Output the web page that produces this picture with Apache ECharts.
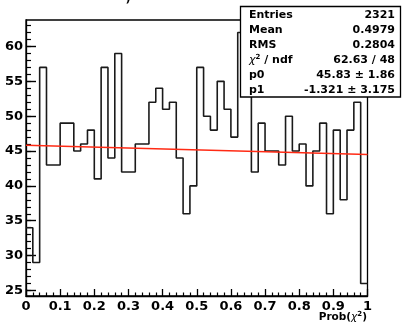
<!DOCTYPE html>
<html>
<head>
<meta charset="utf-8">
<script src="https://cdn.jsdelivr.net/npm/echarts@6/dist/echarts.min.js"></script>
<style>
  html, body { margin: 0; padding: 0; background: #fff; }
  #chart { width: 402px; height: 323px; }
</style>
</head>
<body>
<div id="chart"></div>
<script>
// Histogram binning: 50 bins over [0, 1]
const nBins = 50;
const xLow = 0;
const xHigh = 1;

// Bin contents
const binCounts = [
  34, 29, 57, 43, 43, 49, 49, 45, 46, 48,
  41, 57, 44, 59, 42, 42, 46, 46, 52, 54,
  51, 52, 44, 36, 40, 57, 50, 48, 55, 51,
  47, 62, 55, 42, 49, 45, 45, 43, 50, 45,
  46, 40, 45, 49, 36, 48, 38, 48, 52, 26
];

// Straight-line fit: p0 + p1 * x
const fitP0 = 45.83;
const fitP1 = -1.321;

// Axis ranges and ticks
const yRange = [24.2, 63.8];
const yMajorTicks = [25, 30, 35, 40, 45, 50, 55, 60];
const yMinorTicks = [25, 26, 27, 28, 29, 30, 31, 32, 33, 34, 35, 36, 37, 38, 39, 40,
  41, 42, 43, 44, 45, 46, 47, 48, 49, 50, 51, 52, 53, 54, 55, 56, 57, 58, 59, 60, 61, 62, 63];
const xTickStep = 0.1;
const xTitle = ['Prob(', 'χ', '2', ')'];

// Statistics box
const statNames = ['Entries', 'Mean', 'RMS', 'χ² / ndf', 'p0', 'p1'];
const statValues = ['2321', '0.4979', '0.2804', '62.63 / 48', '45.83 ± 1.86', '-1.321 ± 3.175'];

const FONT = 'DejaVu Sans';
const binWidth = (xHigh - xLow) / nBins;

// Step outline: each bin from its low edge, closed at the upper edge
const histPoints = binCounts.map((c, i) => [xLow + i * binWidth, c]);
histPoints.push([xHigh, binCounts[nBins - 1]]);

const fitPoints = [[xLow, fitP0 + fitP1 * xLow], [xHigh, fitP0 + fitP1 * xHigh]];

const chart = echarts.init(document.getElementById('chart'), null, { renderer: 'canvas' });

// Stats box rows
const statElements = [];
statNames.forEach((name, i) => {
  const y = 15 + i * 15.1;
  const isChi = name.indexOf('χ') === 0;
  statElements.push({
    type: 'text',
    z: 101,
    style: isChi ? {
      text: '{g|χ}{s|2}{t| / ndf}',
      x: 249, y: y,
      verticalAlign: 'middle',
      rich: {
        g: { fontFamily: FONT, fontStyle: 'italic', fontSize: 11, fill: '#000', lineHeight: 13 },
        s: { fontFamily: FONT, fontWeight: 'bold', fontSize: 7, fill: '#000', verticalAlign: 'top', lineHeight: 13 },
        t: { fontFamily: FONT, fontWeight: 'bold', fontSize: 11, fill: '#000', lineHeight: 13 }
      }
    } : {
      text: name, x: 249, y: y,
      verticalAlign: 'middle',
      fontFamily: FONT, fontWeight: 'bold', fontSize: 11, fill: '#000'
    }
  });
  statElements.push({
    type: 'text',
    z: 101,
    style: {
      text: statValues[i], x: 395, y: y,
      align: 'right', verticalAlign: 'middle',
      fontFamily: FONT, fontWeight: 'bold', fontSize: 11, fill: '#000'
    }
  });
});

const option = {
  animation: false,
  backgroundColor: '#fff',
  grid: {
    left: 26, top: 20, right: 34.5, bottom: 27,
    containLabel: false,
    outerBoundsMode: 'none',
    show: true,
    borderColor: '#000',
    borderWidth: 1.3,
    backgroundColor: 'transparent'
  },
  xAxis: {
    type: 'value',
    min: xLow, max: xHigh, interval: xTickStep,
    axisLine: { show: true, onZero: false, lineStyle: { color: '#000', width: 1.3 } },
    axisTick: { show: true, inside: true, length: 7, lineStyle: { color: '#000', width: 1.3 } },
    minorTick: { show: true, splitNumber: 5, length: 3.5, lineStyle: { color: '#000', width: 1.2 } },
    splitLine: { show: false },
    axisLabel: {
      show: true, margin: 4, color: '#000',
      fontFamily: FONT, fontWeight: 'bold', fontSize: 13,
      showMinLabel: true, showMaxLabel: true, hideOverlap: false,
      formatter: v => String(+v.toFixed(1))
    }
  },
  yAxis: [
    {
      type: 'value',
      min: yRange[0], max: yRange[1],
      axisLine: { show: true, onZero: false, lineStyle: { color: '#000', width: 1.3 } },
      axisTick: { show: true, inside: true, length: 10, customValues: yMajorTicks, lineStyle: { color: '#000', width: 1.4 } },
      splitLine: { show: false },
      axisLabel: {
        show: true, margin: 3, color: '#000', customValues: yMajorTicks,
        fontFamily: FONT, fontWeight: 'bold', fontSize: 13
      }
    },
    {
      type: 'value',
      position: 'left',
      min: yRange[0], max: yRange[1],
      axisLine: { show: false },
      axisTick: { show: true, inside: true, length: 5, customValues: yMinorTicks, lineStyle: { color: '#000', width: 1.2 } },
      splitLine: { show: false },
      axisLabel: { show: false }
    }
  ],
  series: [
    {
      name: 'histogram',
      type: 'line',
      step: 'end',
      data: histPoints,
      showSymbol: false,
      symbol: 'none',
      lineStyle: { color: '#1a1a1a', width: 1.6 },
      z: 3
    },
    {
      name: 'fit',
      type: 'line',
      data: fitPoints,
      showSymbol: false,
      symbol: 'none',
      lineStyle: { color: '#ff2a14', width: 1.5 },
      z: 4
    }
  ],
  graphic: [
    {
      type: 'text',
      z: 50,
      style: {
        text: ')', x: 128, y: 5, align: 'center', verticalAlign: 'bottom',
        fontFamily: FONT, fontWeight: 'bold', fontSize: 11, fill: '#000'
      }
    },
    {
      type: 'text',
      z: 50,
      style: {
        text: '{a|' + xTitle[0] + '}{g|' + xTitle[1] + '}{s|' + xTitle[2] + '}{a|' + xTitle[3] + '}',
        x: 367, y: 317, align: 'right', verticalAlign: 'middle',
        rich: {
          a: { fontFamily: FONT, fontWeight: 'bold', fontSize: 10.5, fill: '#000', lineHeight: 13 },
          g: { fontFamily: FONT, fontStyle: 'italic', fontSize: 10.5, fill: '#000', lineHeight: 13 },
          s: { fontFamily: FONT, fontWeight: 'bold', fontSize: 7, fill: '#000', verticalAlign: 'top', lineHeight: 13 }
        }
      }
    },
    {
      type: 'group',
      z: 100,
      children: [
        {
          type: 'rect',
          z: 100,
          shape: { x: 240.5, y: 6.5, width: 160, height: 90.5 },
          style: { fill: '#fff', stroke: '#000', lineWidth: 1.3 }
        }
      ].concat(statElements)
    }
  ]
};

chart.setOption(option);
</script>
</body>
</html>
